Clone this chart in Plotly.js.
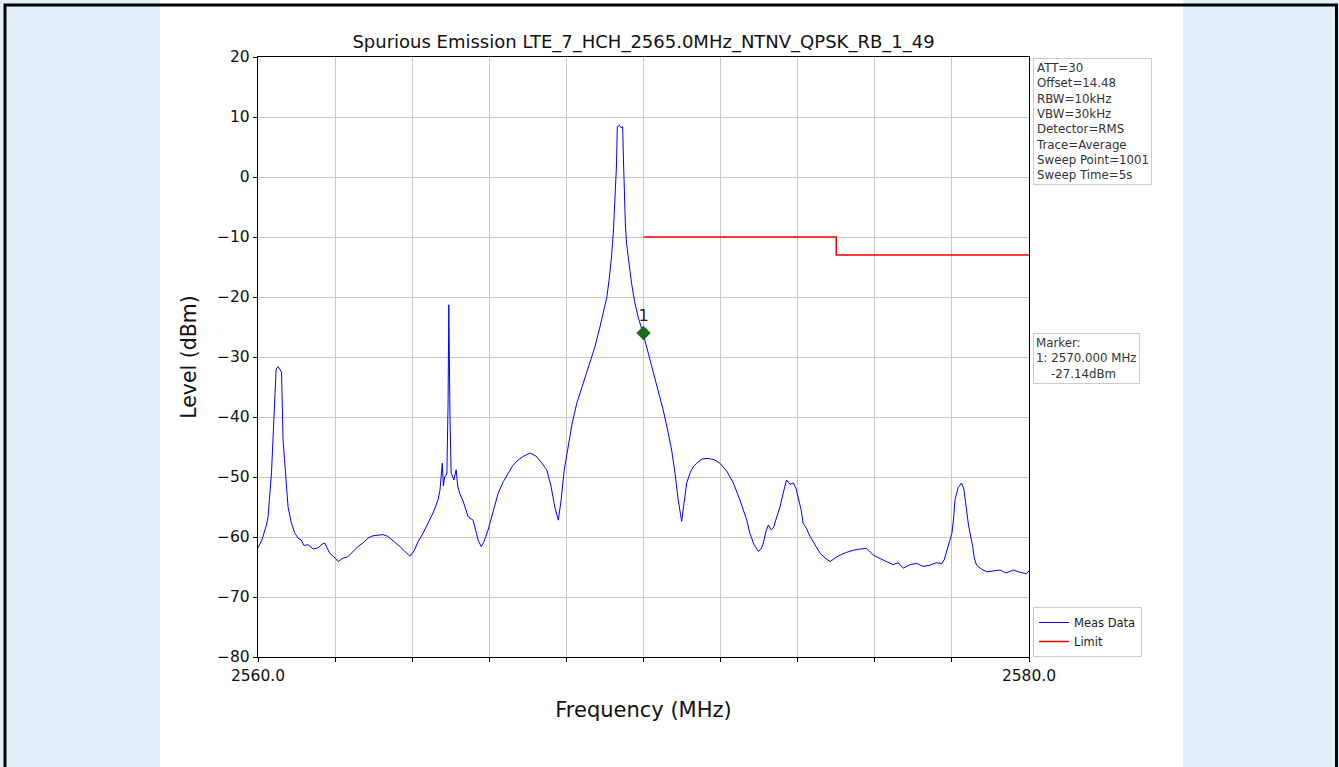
<!DOCTYPE html>
<html>
<head>
<meta charset="utf-8">
<script src="https://cdn.plot.ly/plotly-3.0.1.min.js"></script>
<style>html,body{margin:0;padding:0;background:#e1f0f8;}#chart{width:1339px;height:767px;}</style>
</head>
<body>
<div id="chart"></div>
<script>
const freq = [
2560.00,2560.10,2560.22,2560.26,2560.35,2560.42,2560.47,2560.52,2560.57,2560.61,2560.65,2560.73,2560.78,2560.86,2560.95,
2561.04,2561.12,2561.19,2561.30,2561.43,2561.56,2561.66,2561.73,2561.86,2561.97,2562.08,2562.21,2562.33,2562.46,2562.59,
2562.72,2562.85,2562.98,2563.11,2563.24,2563.37,2563.55,2563.68,2563.81,2563.94,2564.05,2564.15,2564.28,2564.41,2564.54,
2564.67,2564.72,2564.78,2564.81,2564.84,2564.90,2564.93,2564.95,2564.98,2565.01,2565.08,2565.14,2565.18,2565.23,2565.32,
2565.45,2565.58,2565.71,2565.79,2565.86,2565.97,2566.10,2566.23,2566.36,2566.49,2566.61,2566.74,2566.90,2567.06,2567.21,
2567.34,2567.49,2567.60,2567.70,2567.79,2567.86,2567.94,2568.05,2568.15,2568.27,2568.43,2568.61,2568.74,2568.87,2568.96,
2569.05,2569.11,2569.17,2569.22,2569.26,2569.30,2569.32,2569.38,2569.42,2569.46,2569.48,2569.50,2569.53,2569.56,2569.62,
2569.69,2569.77,2569.86,2569.99,2570.12,2570.25,2570.38,2570.51,2570.62,2570.73,2570.82,2570.90,2570.99,2571.05,2571.12,
2571.21,2571.29,2571.38,2571.52,2571.68,2571.83,2571.98,2572.16,2572.33,2572.50,2572.68,2572.76,2572.87,2572.98,2573.05,
2573.11,2573.18,2573.24,2573.31,2573.37,2573.44,2573.54,2573.63,2573.71,2573.80,2573.89,2573.96,2574.02,2574.09,2574.14,
2574.23,2574.32,2574.45,2574.58,2574.71,2574.84,2574.97,2575.10,2575.25,2575.44,2575.62,2575.79,2575.88,2575.96,2576.14,
2576.31,2576.47,2576.61,2576.74,2576.92,2577.09,2577.25,2577.43,2577.59,2577.74,2577.80,2577.87,2577.93,2578.00,2578.05,
2578.08,2578.16,2578.25,2578.31,2578.37,2578.43,2578.54,2578.58,2578.64,2578.76,2578.90,2579.07,2579.25,2579.40,2579.59,
2579.77,2579.94,2580.00
];
const level = [
-61.8,-60.5,-58.0,-56.7,-49.3,-38.0,-32.0,-31.6,-32.0,-32.5,-43.8,-51.5,-55.0,-57.5,-59.3,
-60.2,-60.5,-61.4,-61.3,-62.0,-61.8,-61.2,-61.0,-62.7,-63.3,-64.1,-63.5,-63.3,-62.4,-61.6,
-61.0,-60.2,-59.8,-59.7,-59.6,-59.9,-60.8,-61.6,-62.4,-63.2,-62.3,-60.8,-59.4,-57.7,-56.0,
-53.8,-52.2,-47.7,-51.5,-50.0,-49.5,-38.0,-21.3,-40.0,-49.3,-50.5,-48.8,-51.5,-52.7,-54.0,
-56.6,-57.2,-60.5,-61.6,-60.8,-58.8,-55.5,-52.7,-50.8,-49.3,-48.1,-47.2,-46.5,-46.0,-46.5,
-47.5,-48.8,-51.5,-55.0,-57.2,-54.0,-49.0,-44.9,-41.0,-37.7,-34.5,-31.1,-28.3,-25.0,-22.5,
-20.0,-17.0,-13.3,-9.0,-3.8,2.0,8.4,8.6,8.2,8.4,3.0,-3.8,-8.0,-11.0,-14.5,
-17.7,-20.8,-23.3,-26.1,-29.2,-32.7,-35.8,-38.8,-42.0,-45.5,-49.5,-53.8,-57.4,-54.5,-51.0,
-49.3,-48.3,-47.7,-47.0,-46.9,-47.1,-47.7,-49.0,-51.0,-53.8,-57.2,-59.4,-61.3,-62.4,-62.0,
-61.0,-59.0,-58.0,-58.8,-58.5,-57.0,-55.0,-52.5,-50.5,-51.2,-51.0,-52.0,-53.8,-55.5,-57.7,
-58.6,-59.9,-61.3,-62.7,-63.5,-64.1,-63.5,-63.0,-62.6,-62.2,-62.0,-61.9,-62.5,-63.0,-63.6,
-64.1,-64.6,-64.3,-65.2,-64.6,-64.4,-64.9,-64.7,-64.3,-64.4,-63.8,-62.2,-61.0,-59.4,-56.5,
-53.8,-51.8,-51.0,-52.0,-55.0,-58.0,-61.6,-63.5,-64.7,-65.3,-65.8,-65.6,-65.5,-66.0,-65.5,
-65.9,-66.1,-65.6
];
// Limit line
const limitFreq = [2570, 2575, 2575, 2580];
const limitLevel = [-10, -10, -13, -13];
// Marker
const markerFreq = [2570];
const markerLevel = [-26];
const markerLabel = ["1"];
// Axis ticks
const xTickVals = [2560, 2562, 2564, 2566, 2568, 2570, 2572, 2574, 2576, 2578, 2580];
const xTickText = ["2560.0", "", "", "", "", "", "", "", "", "", "2580.0"];
const yTickVals = [20, 10, 0, -10, -20, -30, -40, -50, -60, -70, -80];
// Info texts
const settingsLines = ["ATT=30", "Offset=14.48", "RBW=10kHz", "VBW=30kHz", "Detector=RMS", "Trace=Average", "Sweep Point=1001", "Sweep Time=5s"];
const markerLines = ["Marker:", "1: 2570.000 MHz", "    -27.14dBm"];
const titleText = "Spurious Emission LTE_7_HCH_2565.0MHz_NTNV_QPSK_RB_1_49";

const W = 1339, H = 767;
const L = 258, R = 1029, T = 57, B = 657;
const pw = R - L, ph = B - T;
const px = v => (v - L) / pw;
const py = v => (B - v) / ph;
const font = "DejaVu Sans, sans-serif";

const traces = [
  {x: freq, y: level, type: "scatter", mode: "lines", name: "Meas Data",
   line: {color: "#0000ff", width: 1}},
  {x: limitFreq, y: limitLevel, type: "scatter", mode: "lines", name: "Limit",
   line: {color: "#ff0000", width: 1.5}},
  {x: markerFreq, y: markerLevel, type: "scatter", mode: "markers+text", text: markerLabel,
   textposition: "top center", textfont: {family: font, size: 16, color: "#222"},
   marker: {symbol: "diamond", size: 11, color: "#1a6e1a"}, showlegend: false, cliponaxis: false}
];

const layout = {
  width: W, height: H,
  margin: {l: L, r: W - R, t: T, b: H - B, pad: 0},
  paper_bgcolor: "#e1f0f8",
  plot_bgcolor: "rgba(0,0,0,0)",
  font: {family: font, color: "#000"},
  title: {text: titleText, font: {family: font, size: 18, color: "#111"},
          x: 0.5, xref: "paper", xanchor: "center", y: 1 - 42 / H, yanchor: "middle"},
  xaxis: {range: [2560, 2580], tickvals: xTickVals, ticktext: xTickText,
          showgrid: true, gridcolor: "#c9c9c9", gridwidth: 1,
          showline: true, linecolor: "#000", linewidth: 1.2, mirror: true,
          ticks: "outside", ticklen: 4, tickcolor: "#000",
          tickfont: {family: font, size: 15.5, color: "#111"}, zeroline: false,
          title: {text: "Frequency (MHz)", font: {family: font, size: 21, color: "#111"}, standoff: 18}},
  yaxis: {range: [-80, 20], tickvals: yTickVals,
          showgrid: true, gridcolor: "#c9c9c9", gridwidth: 1,
          showline: true, linecolor: "#000", linewidth: 1.2, mirror: true,
          ticks: "outside", ticklen: 4, tickcolor: "#000",
          tickfont: {family: font, size: 15.5, color: "#111"}, zeroline: false,
          title: {text: "Level (dBm)", font: {family: font, size: 20.5, color: "#111"}, standoff: 14}},
  legend: {x: px(1033), xanchor: "left", y: py(657), yanchor: "bottom",
           bgcolor: "#fff", bordercolor: "#cccccc", borderwidth: 1,
           font: {family: font, size: 11.5, color: "#222"}, tracegroupgap: 0, itemwidth: 30},
  shapes: [
    {type: "rect", xref: "paper", yref: "paper", layer: "below",
     x0: px(160), x1: px(1183), y0: py(H + 5), y1: py(-5),
     fillcolor: "#ffffff", line: {width: 0}},
    {type: "rect", xref: "paper", yref: "paper", layer: "above",
     x0: px(5), x1: px(1336.5), y0: py(H + 10), y1: py(5),
     fillcolor: "rgba(0,0,0,0)", line: {color: "#000", width: 3}}
  ],
  annotations: [
    {xref: "paper", yref: "paper", x: px(1033), y: py(58), xanchor: "left", yanchor: "top",
     text: settingsLines.join("<br>"), align: "left", showarrow: false,
     font: {family: font, size: 11.8, color: "#333"}, bgcolor: "#fff",
     bordercolor: "#cccccc", borderwidth: 1, borderpad: 2},
    {xref: "paper", yref: "paper", x: px(1033), y: py(333), xanchor: "left", yanchor: "top",
     text: markerLines.join("<br>").replace(/ /g, "&nbsp;"), align: "left", showarrow: false,
     font: {family: font, size: 11.8, color: "#333"}, bgcolor: "#fff",
     bordercolor: "#cccccc", borderwidth: 1, borderpad: 2}
  ]
};

Plotly.newPlot("chart", traces, layout, {displayModeBar: false, staticPlot: true});
</script>
</body>
</html>
